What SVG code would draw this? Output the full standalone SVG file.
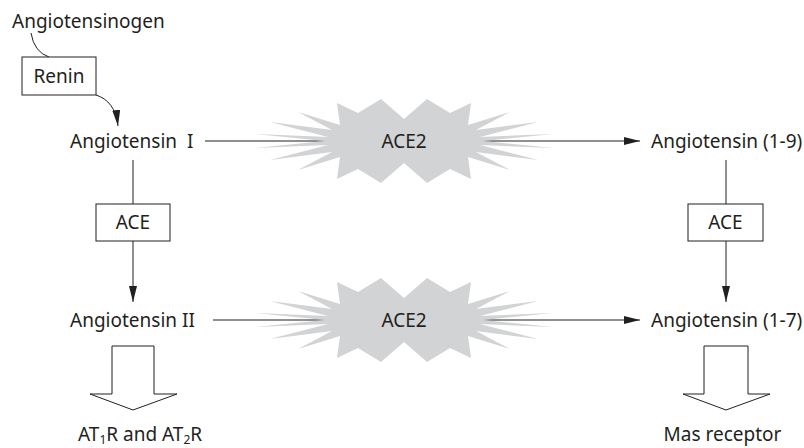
<svg xmlns="http://www.w3.org/2000/svg" xmlns:xlink="http://www.w3.org/1999/xlink" width="804" height="448" viewBox="0 0 804 448">
<style>
  text { font-family: "Noto Sans", "Liberation Sans", Arial, sans-serif; font-size: 19px; fill: #231f20; }
  .box { fill: #ffffff; stroke: #231f20; stroke-width: 1; }
  .line { fill: none; stroke: #231f20; stroke-width: 1; }
  .burst { fill: #d1d3d4; stroke: none; }
  .block { fill: #ffffff; stroke: #231f20; stroke-width: 1; stroke-linejoin: miter; }
  .mid { text-anchor: middle; }
  .sub { font-size: 12px; }
</style>
<defs>
  <marker id="arrow" viewBox="0 0 16 8" markerWidth="16" markerHeight="8" refX="16" refY="4" orient="auto" markerUnits="userSpaceOnUse">
    <path d="M0,0 L16,4 L0,8 z" fill="#231f20"/>
  </marker>
  <path id="burstShape" class="burst" d="M-79,0 L-149,-7 L-76,-4 L-134,-19 L-72,-11 L-106,-29 L-64,-16 L-67,-38 L-46,-28 L-23,-42 L0,-22 L23,-42 L46,-28 L67,-38 L64,-16 L106,-29 L72,-11 L134,-19 L76,-4 L149,-7 L79,0 L149,7 L76,4 L134,19 L72,11 L106,29 L64,16 L67,38 L46,28 L23,42 L0,22 L-23,42 L-46,28 L-67,38 L-64,16 L-106,29 L-72,11 L-134,19 L-76,4 L-149,7 Z"/>
</defs>

<g id="connectors">
  <path class="line" d="M31,33 Q34,52 49,57"/>
  <path class="line" d="M96,95 C108,99 116,108 118,126" marker-end="url(#arrow)"/>
  <line class="line" x1="205" y1="141" x2="640" y2="141" marker-end="url(#arrow)"/>
  <line class="line" x1="213" y1="320" x2="640" y2="320" marker-end="url(#arrow)"/>
  <line class="line" x1="133" y1="160" x2="133" y2="204"/>
  <line class="line" x1="133" y1="241" x2="133" y2="302" marker-end="url(#arrow)"/>
  <line class="line" x1="726" y1="160" x2="726" y2="204"/>
  <line class="line" x1="726" y1="241" x2="726" y2="302" marker-end="url(#arrow)"/>
</g>

<g id="angiotensinogen">
  <text x="12" y="28">Angiotensinogen</text>
</g>
<g id="renin">
  <rect class="box" x="22" y="57" width="74" height="38"/>
  <text class="mid" x="59" y="83">Renin</text>
</g>
<g id="angiotensin-1">
  <text x="70" y="148">Angiotensin<tspan dx="10">I</tspan></text>
</g>
<g id="ace2-top">
  <use xlink:href="#burstShape" href="#burstShape" transform="translate(404,141)"/>
  <text class="mid" x="404" y="148">ACE2</text>
</g>
<g id="angiotensin-1-9">
  <text x="651" y="148">Angiotensin (1-9)</text>
</g>
<g id="ace-left">
  <rect class="box" x="96" y="204" width="74" height="37"/>
  <text class="mid" x="133" y="229">ACE</text>
</g>
<g id="ace-right">
  <rect class="box" x="688" y="204" width="75" height="37"/>
  <text class="mid" x="725.5" y="229">ACE</text>
</g>
<g id="angiotensin-2">
  <text x="70" y="327">Angiotensin II</text>
</g>
<g id="ace2-bottom">
  <use xlink:href="#burstShape" href="#burstShape" transform="translate(404,320)"/>
  <text class="mid" x="404" y="327">ACE2</text>
</g>
<g id="angiotensin-1-7">
  <text x="651" y="327">Angiotensin (1-7)</text>
</g>
<g id="at-receptors">
  <polygon class="block" points="112,346 154,346 154,394 177,394 133,410 90,394 112,394"/>
  <text x="78" y="441">AT<tspan class="sub" dy="3">1</tspan><tspan dy="-3">R and AT</tspan><tspan class="sub" dy="3">2</tspan><tspan dy="-3">R</tspan></text>
</g>
<g id="mas-receptor">
  <polygon class="block" points="704,346 748,346 748,394 770,394 726,410 683,394 704,394"/>
  <text class="mid" x="722.5" y="441">Mas receptor</text>
</g>
</svg>
